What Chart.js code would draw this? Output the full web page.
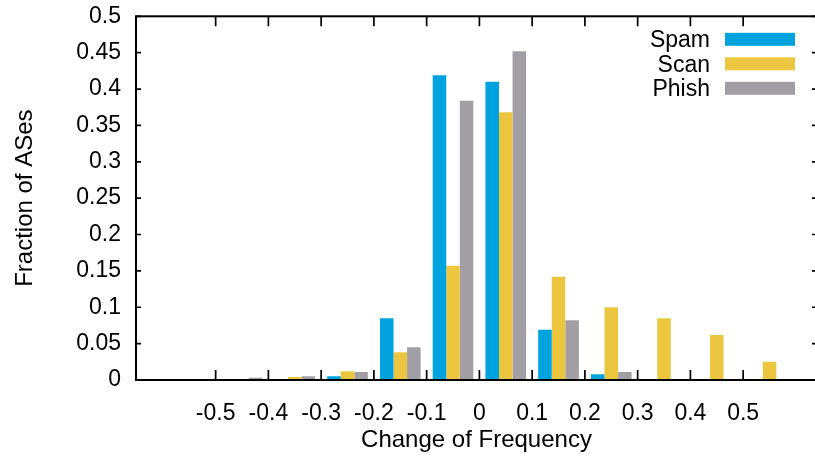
<!DOCTYPE html>
<html>
<head>
<meta charset="utf-8">
<script src="https://cdn.jsdelivr.net/npm/chart.js@4/dist/chart.umd.min.js"></script>
<style>
  html, body { margin: 0; padding: 0; background: #fff; overflow: hidden; width: 815px; height: 457px; }
  canvas { display: block; }
</style>
</head>
<body>
<canvas id="c" width="822" height="457"></canvas>
<script>
// Histogram bins (centres of 0.1-wide bins of frequency change)
const binCenters = [-0.45, -0.35, -0.25, -0.15, -0.05, 0.05, 0.15, 0.25, 0.35, 0.45, 0.55];

// Fraction of ASes in each bin, per abuse type
const spam  = [0,     0,     0.005, 0.085, 0.419, 0.410, 0.069, 0.008, 0,     0,     0    ];
const scan  = [0.001, 0.004, 0.012, 0.038, 0.157, 0.368, 0.142, 0.100, 0.085, 0.062, 0.025];
const phish = [0.003, 0.005, 0.011, 0.045, 0.384, 0.452, 0.082, 0.011, 0,     0,     0    ];

const seriesNames  = ['Spam', 'Scan', 'Phish'];
const seriesColors = ['#00A3DD', '#ECC640', '#A19FA4'];

// Axis tick values
const xTicks = [-0.5, -0.4, -0.3, -0.2, -0.1, 0, 0.1, 0.2, 0.3, 0.4, 0.5];
const yTicks = [0, 0.05, 0.1, 0.15, 0.2, 0.25, 0.3, 0.35, 0.4, 0.45, 0.5];

const FONT = '"Liberation Sans", Arial, Helvetica, sans-serif';
Chart.defaults.color = '#000';
Chart.defaults.font.family = FONT;

const toPoints = vals => vals.map((v, i) => ({ x: binCenters[i], y: v }));

// Box frame with inward ticks on all four sides
const framePlugin = {
  id: 'frame',
  afterDatasetsDraw(chart) {
    const { ctx, chartArea: a, scales: { x, y } } = chart;
    ctx.save();
    ctx.strokeStyle = '#000';
    ctx.lineWidth = 2;
    ctx.strokeRect(a.left, a.top, a.right - a.left, a.bottom - a.top);
    ctx.lineWidth = 1.7;
    ctx.beginPath();
    x.ticks.forEach(t => {
      const p = x.getPixelForValue(t.value);
      ctx.moveTo(p, a.bottom); ctx.lineTo(p, a.bottom - 10);
      ctx.moveTo(p, a.top);    ctx.lineTo(p, a.top + 10);
    });
    y.ticks.forEach(t => {
      const p = y.getPixelForValue(t.value);
      ctx.moveTo(a.left, p);  ctx.lineTo(a.left + 5, p);
      ctx.moveTo(a.right, p); ctx.lineTo(a.right - 5, p);
    });
    ctx.stroke();
    ctx.restore();
  }
};

// Key in the upper right: label text followed by a colour swatch
const keyPlugin = {
  id: 'key',
  afterDraw(chart) {
    const { ctx, chartArea: a } = chart;
    const textRight = a.right - 107;
    const swatchLeft = a.right - 92;
    ctx.save();
    ctx.font = '23px ' + FONT;
    ctx.textAlign = 'right';
    ctx.textBaseline = 'alphabetic';
    chart.data.datasets.forEach((ds, i) => {
      const cy = a.top + 23 + i * 24.5;
      ctx.fillStyle = '#000';
      ctx.fillText(ds.label, textRight, cy + 8);
      ctx.fillStyle = ds.backgroundColor;
      ctx.fillRect(swatchLeft, cy - 6.5, 70, 13);
    });
    ctx.restore();
  }
};

// Fixed axis band sizes; no extra room reserved for overhanging labels
const fixBand = size => s => {
  if (s.isHorizontal()) s.height = size; else s.width = size;
  s.paddingTop = 0; s.paddingBottom = 0; s.paddingLeft = 0; s.paddingRight = 0;
};

new Chart(document.getElementById('c'), {
  type: 'bar',
  data: {
    datasets: [spam, scan, phish].map((vals, i) => ({
      label: seriesNames[i],
      data: toPoints(vals),
      backgroundColor: seriesColors[i],
      borderWidth: 0,
      categoryPercentage: 0.771,
      barPercentage: 1.0
    }))
  },
  options: {
    responsive: false,
    animation: false,
    layout: { padding: { top: 16.3, right: 5, bottom: 0, left: 0 } },
    plugins: { legend: { display: false }, tooltip: { enabled: false } },
    scales: {
      x: {
        type: 'linear',
        min: -0.651,
        max: 0.640,
        offset: false,
        bounds: 'data',
        grid: { display: false, drawTicks: false, offset: false },
        border: { display: false },
        afterBuildTicks: s => { s.ticks = xTicks.map(v => ({ value: v })); },
        afterFit: fixBand(77),
        ticks: {
          padding: 20,
          maxRotation: 0,
          autoSkip: false,
          font: { size: 23 },
          callback: v => (Math.abs(v) < 1e-9 ? '0' : v.toFixed(1))
        },
        title: {
          display: true,
          text: 'Change of Frequency',
          font: { size: 24 },
          padding: { top: 0, bottom: 2.6 }
        }
      },
      y: {
        type: 'linear',
        min: 0,
        max: 0.5,
        grid: { display: false, drawTicks: false },
        border: { display: false },
        afterBuildTicks: s => { s.ticks = yTicks.map(v => ({ value: v })); },
        afterFit: fixBand(136),
        ticks: {
          padding: 15,
          autoSkip: false,
          font: { size: 23 },
          callback: v => String(+v.toFixed(2))
        },
        title: {
          display: true,
          text: 'Fraction of ASes',
          font: { size: 24 },
          padding: { top: 10.6, bottom: 0 }
        }
      }
    }
  },
  plugins: [framePlugin, keyPlugin]
});
</script>
</body>
</html>
